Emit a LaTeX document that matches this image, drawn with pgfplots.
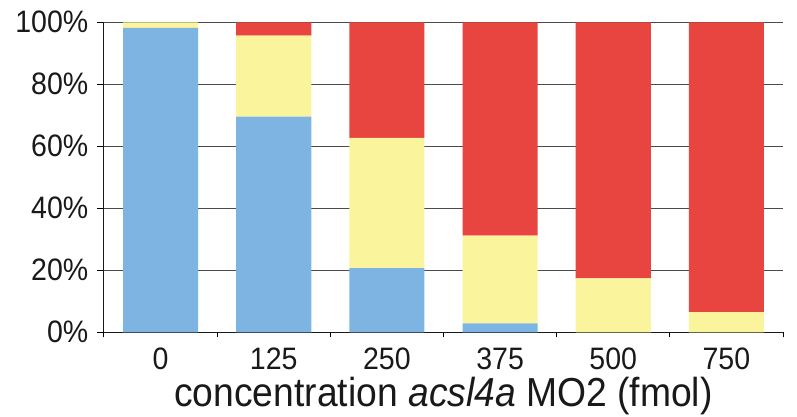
\documentclass[border=0pt]{standalone}
\usepackage{fontspec}
\setmainfont{Liberation Sans}[FakeStretch=0.92]
\usepackage{pgfplots}
\pgfplotsset{compat=1.18}
\definecolor{cblue}{RGB}{126,180,225}
\definecolor{cyellow}{RGB}{250,244,157}
\definecolor{cred}{RGB}{232,69,64}
\definecolor{cgrid}{RGB}{75,75,75}
\begin{document}
\begin{tikzpicture}
\begin{axis}[
  at={(0,0)}, anchor=south west,
  scale only axis, width=679pt, height=310pt,
  ybar stacked, bar width=0.664,
  xmin=-0.5, xmax=5.5, ymin=0, ymax=100,
  axis x line*=bottom, axis y line*=left,
  axis line style={line width=1pt, color=black!90, -},
  xtick={-0.5,0.5,1.5,2.5,3.5,4.5,5.5},
  x tick label as interval,
  xticklabels={0,125,250,375,500,750},
  ytick={0,20,40,60,80,100},
  yticklabel={\pgfmathprintnumber{\tick}\%},
  /pgf/number format/assume math mode=true,
  ymajorgrids, grid style={cgrid, line width=1pt},
  tick align=outside,
  major tick length=7pt,
  tick style={black, line width=1pt},
  xtick style={/pgfplots/major tick length=5pt},
  ticklabel style={font=\fontsize{31}{36}\selectfont, text=black!90},
  yticklabel style={anchor=east, inner sep=0pt, xshift=-8.5pt},
  xticklabel style={anchor=base, inner sep=0pt, yshift=-30.4pt},
  xlabel={concentration \textit{acsl4a} MO2 (fmol)},
  xlabel style={at={(axis description cs:0.5,0)}, anchor=base, yshift=-74.4pt, font=\fontsize{40.5}{48}\selectfont, text=black!90},
]
\addplot[fill=cblue, draw=none] coordinates {(0,98.2) (1,69.6) (2,20.7) (3,2.9) (4,0) (5,0)};
\addplot[fill=cyellow, draw=none] coordinates {(0,1.8) (1,26.1) (2,42.0) (3,28.3) (4,17.4) (5,6.5)};
\addplot[fill=cred, draw=none] coordinates {(0,0) (1,4.3) (2,37.3) (3,68.8) (4,82.6) (5,93.5)};
\end{axis}
\pgfresetboundingbox
\path[use as bounding box] (-104pt,-83.7pt) rectangle (693pt,332.3pt);
\end{tikzpicture}
\end{document}
